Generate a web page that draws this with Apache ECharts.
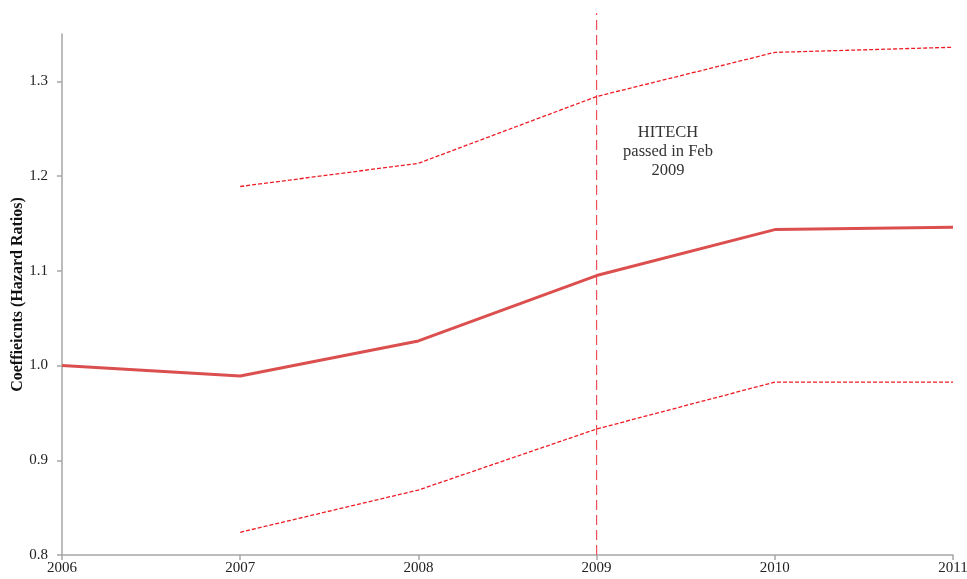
<!DOCTYPE html>
<html>
<head>
<meta charset="utf-8">
<script src="https://cdn.jsdelivr.net/npm/echarts@6/dist/echarts.min.js"></script>
<style>html,body{margin:0;padding:0;background:#fff}#c{width:967px;height:579px}</style>
</head>
<body>
<div id="c"></div>
<script>
const years = ['2006', '2007', '2008', '2009', '2010', '2011'];
const estimate = [1.0, 0.989, 1.026, 1.095, 1.1435, 1.146];
const upperCI = [null, 1.189, 1.2135, 1.284, 1.3306, 1.336];
const lowerCI = [null, 0.824, 0.8686, 0.933, 0.9825, 0.9825];
const yTicks = [0.8, 0.9, 1.0, 1.1, 1.2, 1.3];
const eventYear = '2009';
const eventLabel = 'HITECH\npassed in Feb\n2009';
const yTitle = 'Coeffieicnts (Hazard Ratios)';

const font = 'Liberation Serif';
const axisColor = '#a6a6a6';
const chart = echarts.init(document.getElementById('c'), null, {renderer: 'canvas'});
chart.setOption({
  animation: false,
  backgroundColor: '#fff',
  textStyle: {fontFamily: font},
  grid: [
    {left: 62, right: 14, top: 34, bottom: 24, containLabel: false, outerBoundsMode: 'none'},
    {left: 62, right: 14, top: 13, bottom: 24, containLabel: false, outerBoundsMode: 'none'}
  ],
  xAxis: [
    {
      type: 'category', data: years, boundaryGap: false, gridIndex: 0,
      axisLine: {lineStyle: {color: axisColor, width: 1.5}},
      axisTick: {show: true, length: 5, alignWithLabel: true, lineStyle: {color: axisColor, width: 1.5}},
      axisLabel: {color: '#222', fontFamily: font, fontSize: 15, margin: 6, showMaxLabel: true},
      splitLine: {show: false}
    },
    {
      type: 'category', data: years, boundaryGap: false, gridIndex: 1, show: false
    }
  ],
  yAxis: [
    {
      type: 'value', min: 0.8, max: 1.35, interval: 0.1, gridIndex: 0,
      name: yTitle, nameLocation: 'middle', nameGap: 36, nameRotate: 90,
      nameMoveOverlap: false,
      nameTextStyle: {fontFamily: font, fontWeight: 'bold', fontSize: 16, color: '#111'},
      axisLine: {show: true, lineStyle: {color: axisColor, width: 1.5}},
      axisTick: {show: true, length: 5, customValues: yTicks, lineStyle: {color: axisColor, width: 1.5}},
      axisLabel: {
        color: '#222', fontFamily: font, fontSize: 15, margin: 14,
        customValues: yTicks,
        formatter: function (v) { return Number(v).toFixed(1); }
      },
      splitLine: {show: false}
    },
    {type: 'value', min: 0, max: 1, gridIndex: 1, show: false}
  ],
  series: [
    {
      name: 'Upper', type: 'line', data: upperCI, symbol: 'none',
      lineStyle: {color: '#ee1c25', width: 1.3, type: [4, 2]}, z: 3
    },
    {
      name: 'Lower', type: 'line', data: lowerCI, symbol: 'none',
      lineStyle: {color: '#ee1c25', width: 1.3, type: [4, 2]}, z: 3
    },
    {
      name: 'Estimate', type: 'line', data: estimate, symbol: 'none',
      lineStyle: {color: '#dc4f4f', width: 3}, z: 4
    },
    {
      name: 'Event', type: 'line', xAxisIndex: 1, yAxisIndex: 1,
      data: [[eventYear, 0], [eventYear, 1]], symbol: 'none',
      lineStyle: {color: '#f0505a', width: 1.2, type: [10, 5]}, z: 2
    }
  ],
  graphic: [
    {
      type: 'text', x: 668, y: 123,
      style: {
        text: eventLabel, textAlign: 'center', textVerticalAlign: 'top',
        font: '16.5px "Liberation Serif"', fill: '#333', lineHeight: 19
      }
    }
  ]
});
</script>
</body>
</html>
